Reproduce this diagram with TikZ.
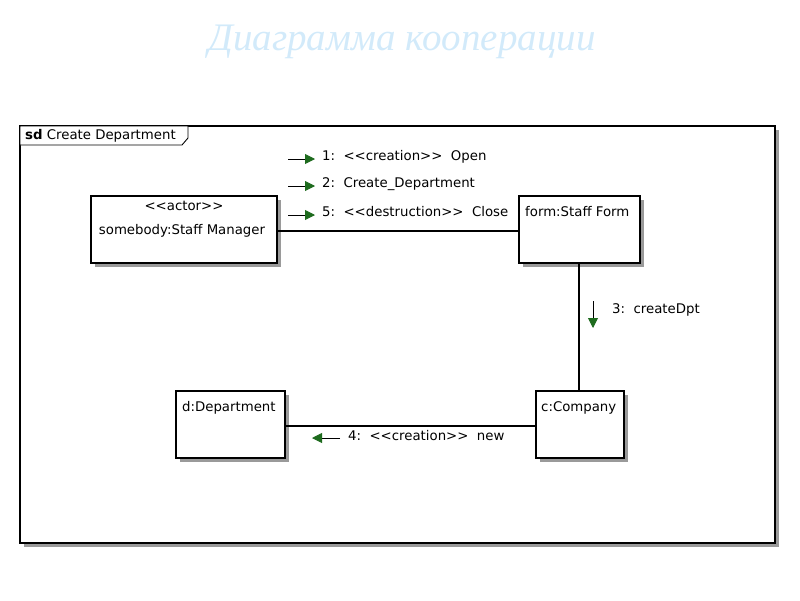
\documentclass[tikz,border=0pt]{standalone}
\usepackage{fontspec}
\setmainfont{DejaVu Sans}
\newfontfamily\titlefont{Liberation Serif}
\usetikzlibrary{arrows.meta}
\definecolor{msggreen}{HTML}{1E6B1E}
\definecolor{shadowgray}{HTML}{9A9A9A}
\definecolor{titleblue}{HTML}{D2EAFA}
\newcommand{\lt}{<{}<}
\newcommand{\gtt}{>{}>}
\tikzset{
  obj/.style={draw=black, line width=1.1pt, fill=white, inner sep=0pt},
  shadowbox/.style={fill=shadowgray, draw=none},
  txt/.style={inner sep=0pt, font=\fontsize{13.3}{15}\selectfont},
  link/.style={draw=black, line width=1.1pt},
  thicklink/.style={draw=black, line width=2pt},
  msg/.style={draw=black, line width=0.9pt, -{Triangle[length=10pt, width=10pt, fill=msggreen, color=msggreen]}},
}
\begin{document}
\begin{tikzpicture}[x=1pt, y=-1pt]
\useasboundingbox (0,0) rectangle (800,600);
% title
\node[inner sep=0pt, text=titleblue, font=\titlefont\itshape\fontsize{39}{44}\selectfont] (title) at (402,42) {Диаграмма кооперации};
% frame
\fill[shadowgray] (24,130) rectangle (779,547);
\draw[line width=1.1pt, fill=white] (20,126) rectangle (775,543);
\draw[line width=0.9pt, fill=white] (20,126) -- (188,126) -- (188,138) -- (182,145) -- (20,145) -- cycle;
\node[txt, anchor=west] (sd) at (25,135.5) {\textbf{sd} Create Department};
% shadows
\fill[shadowbox] (95,200) rectangle (281,267);
\fill[shadowbox] (523,200) rectangle (644,267);
\fill[shadowbox] (540,395) rectangle (628,462);
\fill[shadowbox] (180,395) rectangle (289,462);
% boxes
\node[obj, minimum width=186pt, minimum height=67pt] (mgr) at (184,229.5) {};
\node[obj, minimum width=121pt, minimum height=67pt] (form) at (579.5,229.5) {};
\node[obj, minimum width=88pt, minimum height=67pt] (comp) at (580,424.5) {};
\node[obj, minimum width=109pt, minimum height=67pt] (dept) at (230.5,424.5) {};
% box texts
\node[txt] (mgrst) at (184,205.5) {\lt actor\gtt};
\node[txt] (mgrname) at (182,231) {somebody:Staff Manager};
\node[txt, anchor=west] (formname) at (525,212) {form:Staff Form};
\node[txt, anchor=west] (compname) at (541,407.5) {c:Company};
\node[txt, anchor=west] (deptname) at (182,407.5) {d:Department};
% links
\draw[link] (mgr.east |- 0,231) -- (form.west |- 0,231);
\draw[thicklink] (form.south -| 579,0) -- (comp.north -| 579,0);
\draw[link] (dept.east |- 0,426) -- (comp.west |- 0,426);
% messages
\coordinate (m1a) at (288,159); \coordinate (m1b) at (315,159);
\coordinate (m2a) at (288,186); \coordinate (m2b) at (315,186);
\coordinate (m5a) at (288,215); \coordinate (m5b) at (315,215);
\draw[msg] (m1a) -- (m1b);
\draw[msg] (m2a) -- (m2b);
\draw[msg] (m5a) -- (m5b);
\node[txt, anchor=west] (l1) at (322,157) {1:\ \ \lt creation\gtt\ \ Open};
\node[txt, anchor=west] (l2) at (322,184) {2:\ \ Create\_Department};
\node[txt, anchor=west] (l5) at (322,212) {5:\ \ \lt destruction\gtt\ \ Close};
\coordinate (m3a) at (593,301); \coordinate (m3b) at (593,328);
\draw[msg] (m3a) -- (m3b);
\node[txt, anchor=west] (l3) at (612,310) {3:\ \ createDpt};
\coordinate (m4a) at (340,438); \coordinate (m4b) at (312,438);
\draw[msg] (m4a) -- (m4b);
\node[txt, anchor=west] (l4) at (348,436) {4:\ \ \lt creation\gtt\ \ new};
\end{tikzpicture}
\end{document}
